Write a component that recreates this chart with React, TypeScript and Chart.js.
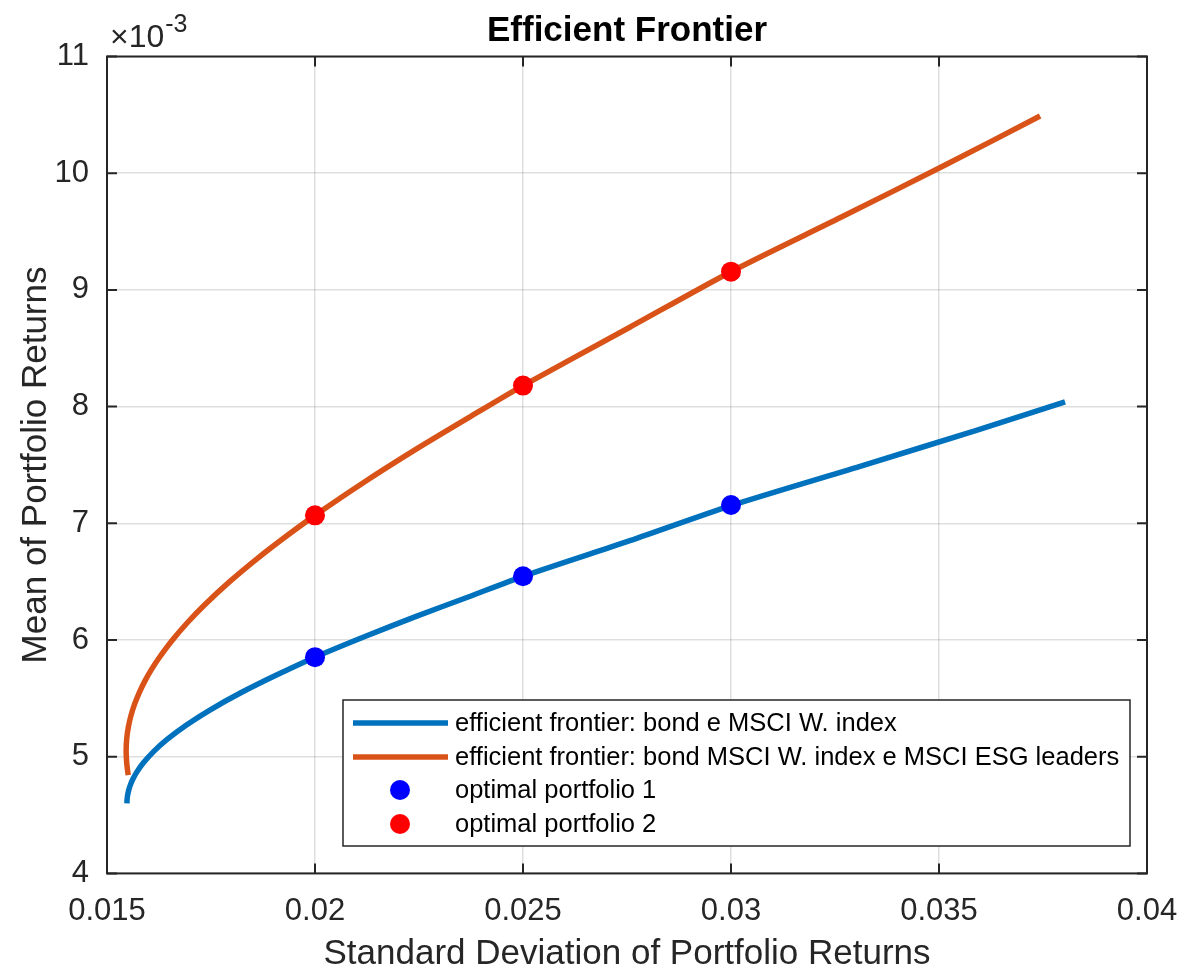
import React, { useEffect, useRef } from 'react';
import { Chart, registerables } from 'chart.js';

Chart.register(...registerables);

// Mean values are in units of 1e-3 (axis shows ×10^-3)
const blueSigma = [0.015479, 0.015482, 0.015491, 0.015512, 0.015554, 0.015611, 0.015719, 0.01588, 0.016137, 0.016452, 0.016902, 0.017473, 0.018228, 0.019074, 0.02, 0.0212, 0.0224, 0.0237, 0.025, 0.0275, 0.03, 0.0332, 0.0359, 0.03803];
const blueMean = [4.6, 4.63, 4.66, 4.7, 4.75, 4.8, 4.87, 4.95, 5.05, 5.15, 5.27, 5.4, 5.55, 5.7, 5.853, 6.03, 6.198, 6.371, 6.546, 6.843, 7.152, 7.499, 7.797, 8.04];

const orangeSigma = [0.01551, 0.015488, 0.015473, 0.01546, 0.015473, 0.015511, 0.015574, 0.015663, 0.015776, 0.015913, 0.016074, 0.016258, 0.016574, 0.016936, 0.017343, 0.017948, 0.018619, 0.019347, 0.02, 0.02117, 0.0225, 0.023763, 0.025, 0.027568, 0.03, 0.032631, 0.035149, 0.03743];
const orangeMean = [4.843, 4.9, 4.95, 5.05, 5.15, 5.25, 5.35, 5.45, 5.55, 5.65, 5.75, 5.85, 6.0, 6.15, 6.3, 6.5, 6.7, 6.9, 7.068, 7.35, 7.65, 7.92, 8.18, 8.68, 9.156, 9.62, 10.07, 10.49];

const optSigma = [0.02, 0.025, 0.03];
const opt1Mean = [5.853, 6.546, 7.157];
const opt2Mean = [7.068, 8.18, 9.156];

const xTicks = [0.015, 0.02, 0.025, 0.03, 0.035, 0.04];
const xTickLabels = ['0.015', '0.02', '0.025', '0.03', '0.035', '0.04'];
const yTicks = [4, 5, 6, 7, 8, 9, 10, 11];
const yTickLabels = ['4', '5', '6', '7', '8', '9', '10', '11'];

const seriesLabels = [
  'efficient frontier: bond e MSCI W. index',
  'efficient frontier: bond MSCI W. index e MSCI ESG leaders',
  'optimal portfolio 1',
  'optimal portfolio 2',
];
const titleText = 'Efficient Frontier';
const xTitle = 'Standard Deviation of Portfolio Returns';
const yTitle = 'Mean of Portfolio Returns';

const FONT = '"Liberation Sans", Arial, Helvetica, sans-serif';
const AX = '#262626';
const BLUE = '#0072BD';
const ORANGE = '#D95319';

const framePlugin = {
  id: 'framePlugin',
  afterDraw(chart: any) {
    const { ctx, chartArea: a, scales } = chart;
    ctx.save();
    // box + inward ticks
    ctx.strokeStyle = AX;
    ctx.lineWidth = 2;
    ctx.beginPath();
    xTicks.forEach((v) => {
      const px = scales.x.getPixelForValue(v);
      ctx.moveTo(px, a.bottom);
      ctx.lineTo(px, a.bottom - 10);
      ctx.moveTo(px, a.top);
      ctx.lineTo(px, a.top + 10);
    });
    yTicks.forEach((v) => {
      const py = scales.y.getPixelForValue(v);
      ctx.moveTo(a.left, py);
      ctx.lineTo(a.left + 10, py);
      ctx.moveTo(a.right, py);
      ctx.lineTo(a.right - 10, py);
    });
    ctx.stroke();
    ctx.strokeRect(a.left, a.top, a.right - a.left, a.bottom - a.top);

    // title
    ctx.fillStyle = '#000';
    ctx.font = `bold 35px ${FONT}`;
    ctx.textAlign = 'center';
    ctx.textBaseline = 'alphabetic';
    ctx.fillText(titleText, (a.left + a.right) / 2, 41);

    // exponent
    ctx.fillStyle = AX;
    ctx.textAlign = 'left';
    ctx.font = `32px ${FONT}`;
    ctx.fillText('\u00D710', 110, 47);
    const w = ctx.measureText('\u00D710').width;
    ctx.font = `25px ${FONT}`;
    ctx.fillText('-3', 110 + w + 1, 32);

    // axis titles
    ctx.font = `35px ${FONT}`;
    ctx.textAlign = 'center';
    ctx.textBaseline = 'middle';
    ctx.fillText(xTitle, (a.left + a.right) / 2, 954);
    ctx.save();
    ctx.translate(36, (a.top + a.bottom) / 2);
    ctx.rotate(-Math.PI / 2);
    ctx.fillText(yTitle, 0, 0);
    ctx.restore();

    // legend
    const lx = 343, ly = 700, lw = 787, lh = 146;
    ctx.fillStyle = '#fff';
    ctx.fillRect(lx, ly, lw, lh);
    ctx.strokeStyle = AX;
    ctx.lineWidth = 1.5;
    ctx.strokeRect(lx, ly, lw, lh);
    const rows = [723, 757, 790, 824];
    const ds = chart.data.datasets;
    ctx.font = `25.5px ${FONT}`;
    ctx.textAlign = 'left';
    ctx.textBaseline = 'middle';
    rows.forEach((ry, i) => {
      const d = ds[i];
      if (i < 2) {
        ctx.strokeStyle = d.borderColor;
        ctx.lineWidth = 5.5;
        ctx.beginPath();
        ctx.moveTo(353, ry);
        ctx.lineTo(448, ry);
        ctx.stroke();
      } else {
        ctx.fillStyle = d.backgroundColor;
        ctx.beginPath();
        ctx.arc(400, ry, 10, 0, Math.PI * 2);
        ctx.fill();
      }
      ctx.fillStyle = '#000';
      ctx.fillText(d.label, 455, ry + 1);
    });
    ctx.restore();
  },
};

export default function App() {
  const ref = useRef<HTMLCanvasElement | null>(null);
  useEffect(() => {
    document.body.style.margin = '0';
    if (!ref.current) return;
    const gridColor = 'rgba(38,38,38,0.15)';
    const tickFont = { family: FONT, size: 31 };
    const chart = new Chart(ref.current, {
      type: 'scatter',
      data: {
        datasets: [
          {
            label: seriesLabels[0],
            data: blueSigma.map((x, i) => ({ x, y: blueMean[i] })),
            showLine: true,
            borderColor: BLUE,
            backgroundColor: BLUE,
            borderWidth: 5.5,
            pointRadius: 0,
            tension: 0.25,
            order: 2,
          },
          {
            label: seriesLabels[1],
            data: orangeSigma.map((x, i) => ({ x, y: orangeMean[i] })),
            showLine: true,
            borderColor: ORANGE,
            backgroundColor: ORANGE,
            borderWidth: 5.5,
            pointRadius: 0,
            tension: 0.25,
            order: 2,
          },
          {
            label: seriesLabels[2],
            data: optSigma.map((x, i) => ({ x, y: opt1Mean[i] })),
            showLine: false,
            backgroundColor: '#0000FF',
            borderColor: '#0000FF',
            borderWidth: 0,
            pointRadius: 10,
            order: 0,
          },
          {
            label: seriesLabels[3],
            data: optSigma.map((x, i) => ({ x, y: opt2Mean[i] })),
            showLine: false,
            backgroundColor: '#FF0000',
            borderColor: '#FF0000',
            borderWidth: 0,
            pointRadius: 10,
            order: 0,
          },
        ],
      } as any,
      options: {
        responsive: false,
        animation: false,
        devicePixelRatio: 1,
        layout: { padding: { top: 56.5, right: 33, left: 0, bottom: 0 } },
        plugins: {
          legend: { display: false },
          title: { display: false },
          tooltip: { enabled: false },
        },
        scales: {
          x: {
            type: 'linear',
            min: 0.015,
            max: 0.04,
            afterBuildTicks: (s: any) => {
              s.ticks = xTicks.map((v) => ({ value: v }));
            },
            afterFit: (s: any) => {
              s.height = 93.6;
              s.paddingLeft = 0;
              s.paddingRight = 0;
            },
            ticks: {
              callback: (_v: any, i: number) => xTickLabels[i],
              font: tickFont,
              color: AX,
              padding: 19,
              maxRotation: 0,
              autoSkip: false,
            },
            grid: { color: gridColor, lineWidth: 1.5, drawTicks: false },
            border: { display: false },
          },
          y: {
            type: 'linear',
            min: 4,
            max: 11,
            afterBuildTicks: (s: any) => {
              s.ticks = yTicks.map((v) => ({ value: v }));
            },
            afterFit: (s: any) => {
              s.width = 107;
              s.paddingTop = 0;
              s.paddingBottom = 0;
            },
            ticks: {
              callback: (_v: any, i: number) => yTickLabels[i],
              font: tickFont,
              color: AX,
              padding: 18,
              autoSkip: false,
            },
            grid: { color: gridColor, lineWidth: 1.5, drawTicks: false },
            border: { display: false },
          },
        },
      } as any,
      plugins: [framePlugin],
    });
    return () => chart.destroy();
  }, []);
  return (
    <div style={{ width: 1180, height: 967 }}>
      <canvas ref={ref} width={1180} height={967} style={{ display: 'block' }} />
    </div>
  );
}
